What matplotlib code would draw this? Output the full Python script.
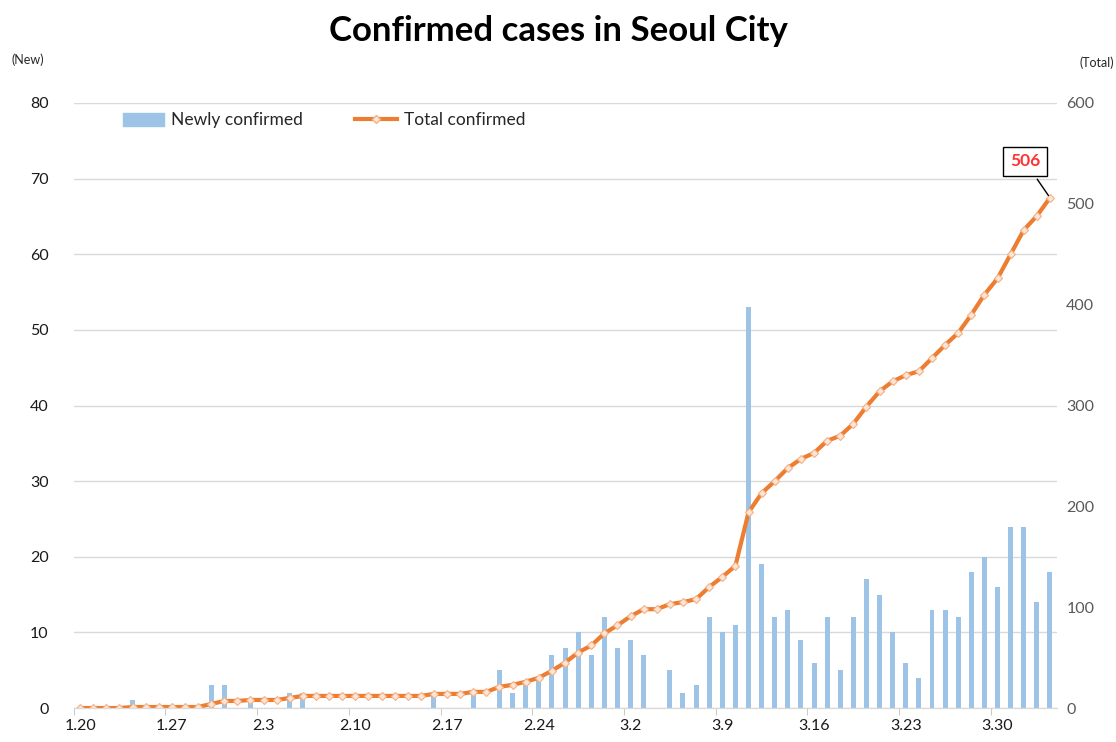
import matplotlib
matplotlib.use("Agg")
import matplotlib.pyplot as plt
from matplotlib.lines import Line2D
from matplotlib.patches import Patch

plt.rcParams['font.family'] = ['Lato', 'DejaVu Sans']

# daily values, 1.20 .. 4.3
new_cases = [0, 0, 0, 0, 1, 0, 0, 0, 0, 0,
             3, 3, 0, 1, 0, 0, 2, 2, 0, 0,
             0, 0, 0, 0, 0, 0, 0, 2, 0, 0,
             2, 0, 5, 2, 3, 4, 7, 8, 10, 7,
             12, 8, 9, 7, 0, 5, 2, 3, 12, 10,
             11, 53, 19, 12, 13, 9, 6, 12, 5, 12,
             17, 15, 10, 6, 4, 13, 13, 12, 18, 20,
             16, 24, 24, 14, 18]
total_cases = [0, 0, 0, 0, 1, 1, 1, 1, 1, 1,
               4, 7, 7, 8, 8, 8, 10, 12, 12, 12,
               12, 12, 12, 12, 12, 12, 12, 14, 14, 14,
               16, 16, 21, 23, 26, 30, 37, 45, 55, 62,
               74, 82, 91, 98, 98, 103, 105, 108, 120, 130,
               141, 194, 213, 225, 238, 247, 253, 265, 270, 282,
               299, 314, 324, 330, 334, 347, 360, 372, 390, 410,
               426, 450, 474, 488, 506]
tick_labels = ['1.20', '1.27', '2.3', '2.10', '2.17', '2.24',
               '3.2', '3.9', '3.16', '3.23', '3.30']

days = list(range(len(new_cases)))
tick_pos = days[::7]

fig = plt.figure(figsize=(11.16, 7.42), dpi=100)
ax = fig.add_axes([0.0659, 0.0458, 0.8808, 0.8154])
ax2 = ax.twinx()

ax.bar(days, new_cases, width=0.38, color='#9DC3E6', zorder=2)
ax2.plot(days, total_cases, color='#ED7D31', lw=3, marker='D', markersize=4,
         markerfacecolor='#FCE4D6', markeredgecolor='#F4B183', markeredgewidth=0.8)

ax.set_xlim(-0.5, len(days) - 0.5)
ax.set_ylim(0, 80)
ax2.set_ylim(0, 600)
ax.set_yticks(range(0, 81, 10))
ax2.set_yticks(range(0, 601, 100))
ax.grid(axis='y', color='#D9D9D9', lw=1, zorder=0)
ax.set_axisbelow(True)

ax.set_xticks(tick_pos)
ax.set_xticklabels(tick_labels)
ax.set_xticks([p - 0.5 for p in tick_pos], minor=True)
ax.tick_params(axis='x', which='major', length=0, pad=8, labelsize=11.5, labelcolor='#1a1a1a')
ax.tick_params(axis='x', which='minor', length=5, color='#BFBFBF')
ax.tick_params(axis='y', length=0, pad=18, labelsize=11.5, labelcolor='#1a1a1a')
ax2.tick_params(axis='y', length=0, pad=7, labelsize=11.5, labelcolor='#595959')

for a in (ax, ax2):
    for s in ('top', 'left', 'right'):
        a.spines[s].set_visible(False)
    a.spines['bottom'].set_color('#D9D9D9')

fig.text(0.5, 0.958, 'Confirmed cases in Seoul City', ha='center', va='center',
         fontsize=25, fontweight='bold', color='black')
fig.text(0.010, 0.919, '(New)', fontsize=9, color='#262626', va='center')
fig.text(0.998, 0.916, '(Total)', fontsize=9, color='#262626', va='center', ha='right')

handles = [Patch(color='#9DC3E6', label='Newly confirmed'),
           Line2D([], [], color='#ED7D31', lw=3, marker='D', markersize=4,
                  markerfacecolor='#FCE4D6', markeredgecolor='#F4B183',
                  label='Total confirmed')]
fig.legend(handles=handles, loc='center left', bbox_to_anchor=(0.096, 0.838), ncol=2,
           frameon=False, fontsize=12.5, handlelength=2.4, handleheight=0.8,
           handletextpad=0.4, columnspacing=3.0, labelcolor='#262626')

ax2.annotate(str(total_cases[-1]), xy=(days[-1], total_cases[-1]),
             xytext=(days[-1] - 1.9, total_cases[-1] + 36), ha='center', va='center',
             fontsize=12.5, fontweight='bold', color='#FF3333',
             bbox=dict(boxstyle='square,pad=0.4', fc='white', ec='black', lw=1),
             arrowprops=dict(arrowstyle='-', color='black', lw=1))

fig.savefig('out.png', dpi=100)
